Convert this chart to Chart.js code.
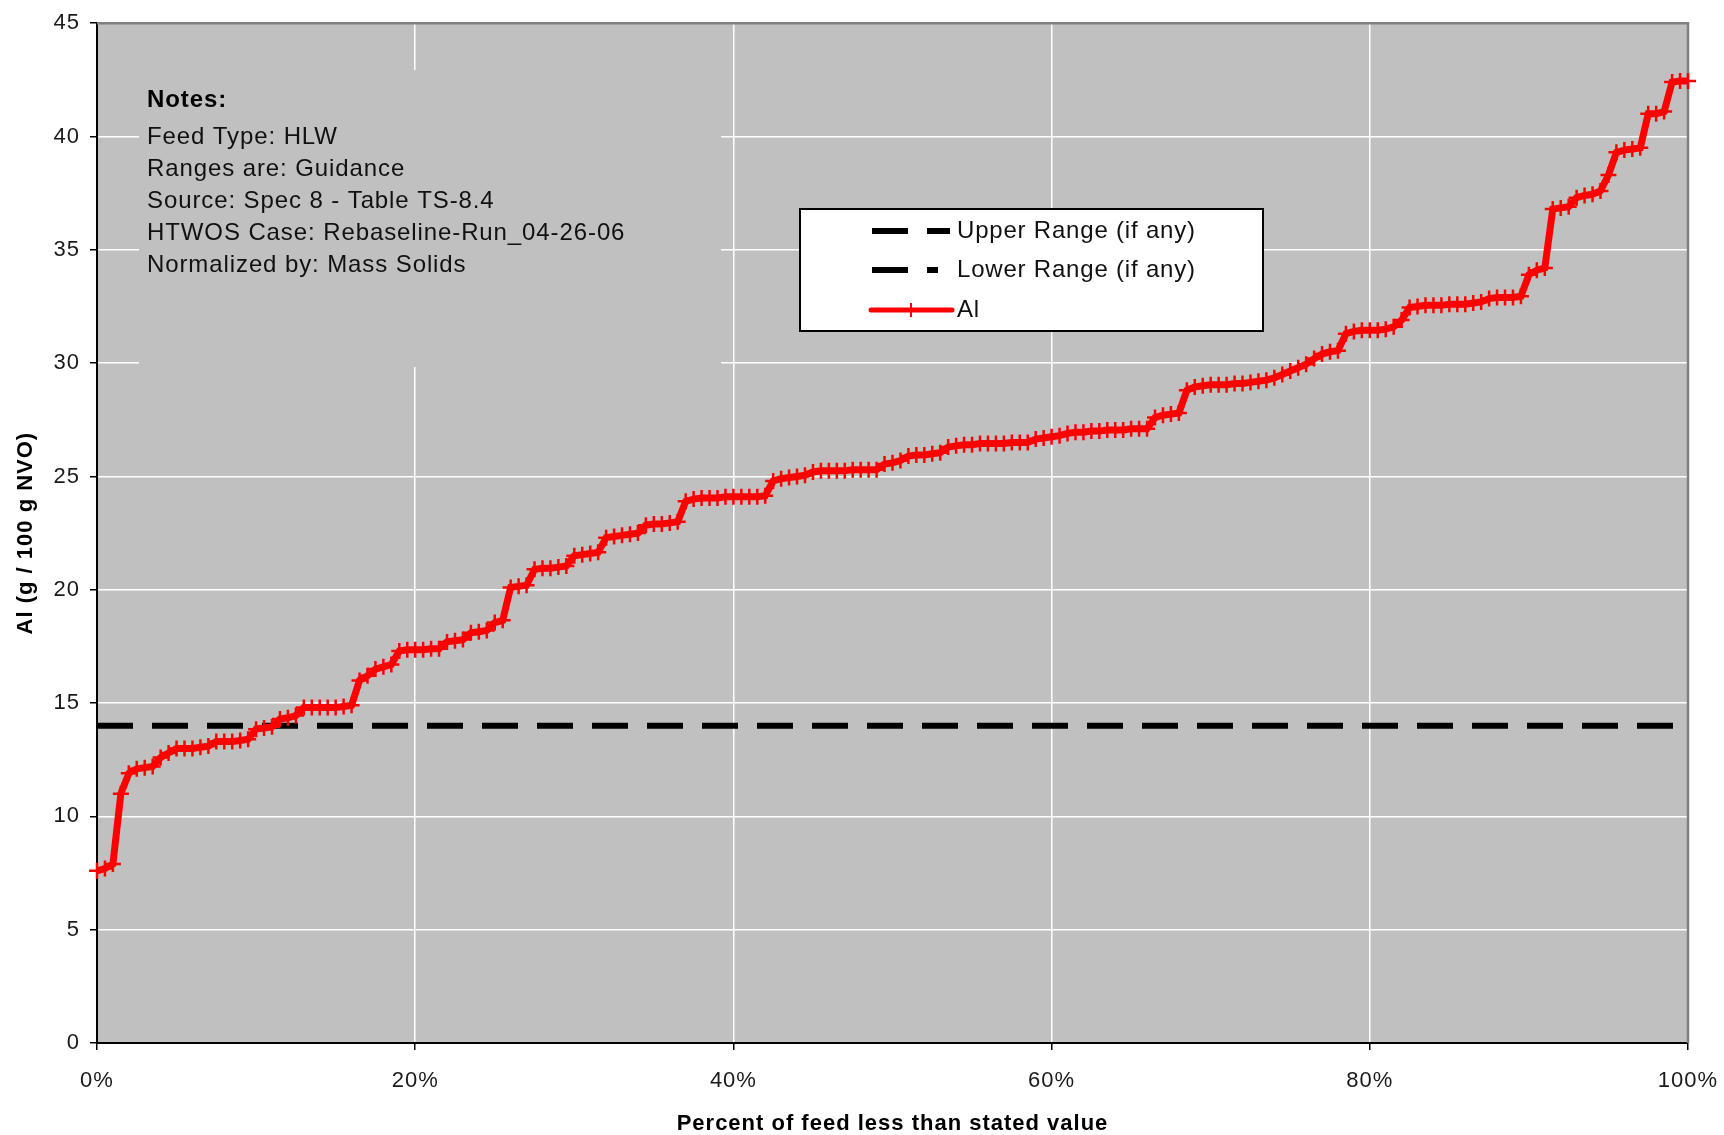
<!DOCTYPE html>
<html>
<head>
<meta charset="utf-8">
<script src="https://cdn.jsdelivr.net/npm/chart.js@4.4.1/dist/chart.umd.min.js"></script>
<style>
  html, body { margin: 0; padding: 0; background: #ffffff; }
  #wrap { width: 1724px; height: 1135px; position: relative; }
</style>
</head>
<body>
<div id="wrap"><canvas id="c" width="1724" height="1135"></canvas></div>
<script>
// Cumulative distribution of Al in HLW feed (g / 100 g NVO), evenly spaced percentiles 0..100 %
const alValues = [
  7.6, 7.7, 7.9, 11.0, 11.9, 12.1, 12.15, 12.2, 12.6, 12.8,
  13.0, 13.0, 13.0, 13.05, 13.1, 13.3, 13.3, 13.3, 13.35, 13.4,
  13.85, 13.9, 13.95, 14.3, 14.35, 14.45, 14.8, 14.8, 14.8, 14.8,
  14.8, 14.85, 14.9, 16.0, 16.2, 16.5, 16.6, 16.7, 17.3, 17.35,
  17.35, 17.35, 17.4, 17.4, 17.7, 17.75, 17.8, 18.1, 18.15, 18.2,
  18.55, 18.65, 20.1, 20.15, 20.2, 20.9, 20.95, 20.95, 21.0, 21.05,
  21.5, 21.55, 21.6, 21.65, 22.3, 22.35, 22.4, 22.45, 22.5, 22.85,
  22.9, 22.9, 22.95, 23.0, 23.9, 24.0, 24.05, 24.05, 24.05, 24.1,
  24.1, 24.1, 24.1, 24.1, 24.15, 24.8, 24.9, 24.95, 25.0, 25.05,
  25.2, 25.25, 25.25, 25.25, 25.25, 25.3, 25.3, 25.3, 25.3, 25.55,
  25.6, 25.7, 25.9, 25.95, 25.95, 26.0, 26.05, 26.3, 26.35, 26.4,
  26.4, 26.45, 26.45, 26.45, 26.45, 26.5, 26.5, 26.5, 26.65, 26.7,
  26.75, 26.8, 26.9, 26.95, 26.95, 27.0, 27.0, 27.05, 27.05, 27.05,
  27.1, 27.1, 27.1, 27.6, 27.7, 27.75, 27.8, 28.8, 28.95, 29.0,
  29.05, 29.05, 29.05, 29.1, 29.1, 29.15, 29.2, 29.25, 29.35, 29.5,
  29.65, 29.8, 29.95, 30.2, 30.4, 30.5, 30.55, 31.3, 31.4, 31.45,
  31.45, 31.45, 31.5, 31.6, 31.9, 32.45, 32.5, 32.55, 32.55, 32.55,
  32.6, 32.6, 32.6, 32.65, 32.7, 32.85, 32.9, 32.9, 32.9, 32.95,
  33.9, 34.1, 34.2, 36.8, 36.85, 36.9, 37.3, 37.4, 37.45, 37.6,
  38.3, 39.3, 39.4, 39.45, 39.5, 41.0, 41.0, 41.1, 42.4, 42.45,
  42.45
];
const lowerRange = 14;            // guidance lower limit
const percentTicks = [0, 20, 40, 60, 80, 100];
const valueTicks = [0, 5, 10, 15, 20, 25, 30, 35, 40, 45];
const seriesNames = ['Upper Range (if any)', 'Lower Range (if any)', 'Al'];
const notesTitle = 'Notes:';
const notesLines = [
  'Feed Type: HLW',
  'Ranges are: Guidance',
  'Source: Spec 8 - Table TS-8.4',
  'HTWOS Case: Rebaseline-Run_04-26-06',
  'Normalized by: Mass Solids'
];

const FONT = '"Liberation Sans", Arial, Helvetica, sans-serif';
const PLOT_GRAY = '#c0c0c0';

const alPoints = alValues.map((v, i) => ({ x: i * 100 / (alValues.length - 1), y: v }));
const lowerPoints = [{ x: percentTicks[0], y: lowerRange }, { x: percentTicks[percentTicks.length - 1], y: lowerRange }];

// background, notes panel, frame and the boxed legend
const decorations = {
  id: 'decorations',
  beforeDraw(chart) {
    const { ctx, chartArea: a } = chart;
    ctx.save();
    ctx.fillStyle = '#ffffff';
    ctx.fillRect(0, 0, chart.width, chart.height);
    ctx.fillStyle = PLOT_GRAY;
    ctx.fillRect(a.left, a.top, a.right - a.left, a.bottom - a.top);
    ctx.restore();
    ctx.letterSpacing = '1px';
  },
  beforeDatasetsDraw(chart) {
    const { ctx, chartArea: a } = chart;
    ctx.save();
    // notes text box (same fill as the plot, hides grid lines behind it)
    ctx.fillStyle = PLOT_GRAY;
    ctx.fillRect(139, 70, 582, 297);
    ctx.fillStyle = '#000';
    ctx.textBaseline = 'middle';
    ctx.textAlign = 'left';
    ctx.letterSpacing = '0.9px';
    ctx.font = 'bold 24px ' + FONT;
    ctx.fillText(notesTitle, 147, 100);
    ctx.font = '24px ' + FONT;
    ctx.fillStyle = '#111';
    notesLines.forEach((t, i) => ctx.fillText(t, 147, 137 + i * 32.2));
    // top and right frame
    ctx.strokeStyle = '#808080';
    ctx.lineWidth = 2.5;
    ctx.beginPath();
    ctx.moveTo(a.left, a.top);
    ctx.lineTo(a.right, a.top);
    ctx.lineTo(a.right, a.bottom);
    ctx.stroke();
    ctx.restore();
  },
  afterDatasetsDraw(chart) {
    const { ctx } = chart;
    ctx.save();
    const bx = 800, by = 209, bw = 463, bh = 122;
    ctx.fillStyle = '#ffffff';
    ctx.fillRect(bx, by, bw, bh);
    ctx.strokeStyle = '#000';
    ctx.lineWidth = 2;
    ctx.strokeRect(bx, by, bw, bh);
    const rows = [231, 270, 310];
    // upper range sample
    ctx.fillStyle = '#000';
    ctx.fillRect(872, rows[0] - 3, 36, 6);
    ctx.fillRect(927, rows[0] - 3, 23, 6);
    // lower range sample
    ctx.fillRect(872, rows[1] - 3, 36, 6);
    ctx.fillRect(927, rows[1] - 3, 11, 6);
    // Al sample
    ctx.strokeStyle = '#ff0000';
    ctx.lineWidth = 5;
    ctx.lineCap = 'round';
    ctx.beginPath();
    ctx.moveTo(871, rows[2]);
    ctx.lineTo(952, rows[2]);
    ctx.stroke();
    ctx.lineWidth = 2;
    ctx.lineCap = 'butt';
    ctx.beginPath();
    ctx.moveTo(911, rows[2] - 7);
    ctx.lineTo(911, rows[2] + 7);
    ctx.stroke();
    ctx.fillStyle = '#111';
    ctx.font = '24px ' + FONT;
    ctx.letterSpacing = '0.8px';
    ctx.textBaseline = 'middle';
    ctx.textAlign = 'left';
    seriesNames.forEach((t, i) => ctx.fillText(t, 957, rows[i]));
    ctx.restore();
  }
};

new Chart(document.getElementById('c'), {
  type: 'line',
  data: {
    datasets: [
      {
        label: seriesNames[2],
        data: alPoints,
        borderColor: '#ff0000',
        backgroundColor: '#ff0000',
        borderWidth: 7,
        borderJoinStyle: 'miter',
        pointStyle: 'cross',
        pointRadius: 8,
        pointBorderWidth: 2.5,
        pointBorderColor: '#ff0000',
        pointHoverRadius: 0,
        tension: 0,
        fill: false,
        clip: false
      },
      {
        label: seriesNames[1],
        data: lowerPoints,
        borderColor: '#000000',
        borderWidth: 6,
        borderDash: [36, 19],
        pointRadius: 0,
        fill: false
      }
    ]
  },
  options: {
    responsive: false,
    animation: false,
    devicePixelRatio: 1,
    events: [],
    layout: { padding: { top: 20, right: 36, left: 0, bottom: 0 } },
    plugins: {
      legend: { display: false },
      title: { display: false },
      tooltip: { enabled: false }
    },
    scales: {
      x: {
        type: 'linear',
        min: 0,
        max: 100,
        afterBuildTicks: s => { s.ticks = percentTicks.map(v => ({ value: v })); },
        afterFit: s => { s.height = 92; s.paddingLeft = 0; s.paddingRight = 0; },
        ticks: {
          callback: v => v + '%',
          font: { family: FONT, size: 22 },
          color: '#1a1a1a',
          padding: 18,
          maxRotation: 0
        },
        grid: { color: '#ffffff', lineWidth: 1.5, tickLength: 7, tickColor: '#000', tickWidth: 1.5 },
        border: { color: '#000', width: 2 },
        title: {
          display: true,
          text: 'Percent of feed less than stated value',
          font: { family: FONT, size: 22, weight: 'bold' },
          color: '#000',
          padding: { top: 0, bottom: -2 }
        }
      },
      y: {
        min: 0,
        max: 45,
        afterBuildTicks: s => { s.ticks = valueTicks.map(v => ({ value: v })); },
        afterFit: s => { s.width = 97; },
        ticks: {
          font: { family: FONT, size: 22 },
          color: '#1a1a1a',
          padding: 10
        },
        grid: { color: '#ffffff', lineWidth: 1.5, tickLength: 7, tickColor: '#000', tickWidth: 1.5 },
        border: { color: '#000', width: 2 },
        title: {
          display: true,
          text: 'Al (g / 100 g NVO)',
          font: { family: FONT, size: 22, weight: 'bold' },
          color: '#000',
          padding: { top: 13, bottom: 0 }
        }
      }
    }
  },
  plugins: [decorations]
});
</script>
</body>
</html>
